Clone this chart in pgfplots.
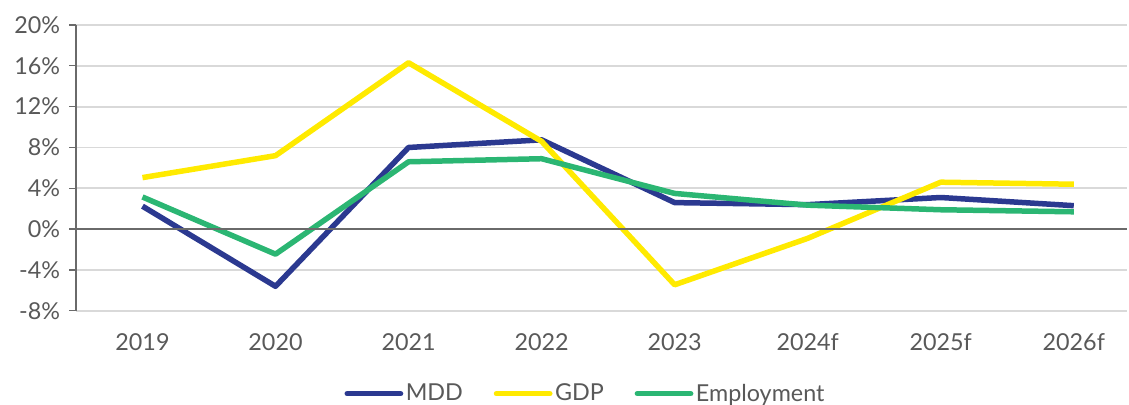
\documentclass[border=0pt]{standalone}
\usepackage{pgfplots}
\pgfplotsset{compat=1.18}
\usepackage{fontspec}
\setmainfont{Lato}
\definecolor{mdd}{HTML}{2B3990}
\definecolor{gdp}{HTML}{FFEA00}
\definecolor{emp}{HTML}{2BB673}
\definecolor{txt}{HTML}{595959}
\definecolor{grd}{HTML}{D9D9D9}
\begin{document}
\begin{tikzpicture}
\begin{axis}[
  name=ax,
  scale only axis,
  width=631pt, height=171.6pt,
  xmin=-0.5, xmax=7.4,
  ymin=-8, ymax=20,
  ytick={-8,-4,0,4,8,12,16,20},
  yticklabel={\pgfmathprintnumber{\tick}\%},
  /pgf/number format/assume math mode=true,
  xtick={0,1,2,3,4,5,6,7},
  xticklabels={2019,2020,2021,2022,2023,2024f,2025f,2026f},
  ymajorgrids,
  major grid style={grd, line width=1.1pt},
  axis x line*=bottom,
  x axis line style={draw=none},
  xtick style={draw=none},
  axis y line*=left,
  y axis line style={txt!90, line width=0.8pt, -},
  ytick style={txt!90, line width=0.8pt},
  tick align=outside,
  major tick length=4pt,
  ticklabel style={font=\fontsize{14}{16}\selectfont, text=txt},
  yticklabel style={xshift=-2pt},
  xticklabel style={anchor=base, yshift=-20pt},
  clip=false,
  legend style={at={(0.485,-0.29)}, anchor=center, draw=none, legend columns=3,
    font=\fontsize{14}{16}\selectfont, text=txt,
    nodes={inner xsep=1.5pt},
    /tikz/every even column/.append style={column sep=17pt}},
  legend image code/.code={\draw[#1, line cap=round] (0pt,0pt) -- (32pt,0pt);},
  every axis plot/.append style={line width=3.3pt, line join=round},
]
\addplot[mdd] coordinates {(0,2.25) (1,-5.6) (2,8.0) (3,8.75) (4,2.6) (5,2.4) (6,3.1) (7,2.3)};
\addplot[gdp] coordinates {(0,5.05) (1,7.2) (2,16.3) (3,8.6) (4,-5.45) (5,-0.9) (6,4.6) (7,4.4)};
\addplot[emp] coordinates {(0,3.15) (1,-2.45) (2,6.6) (3,6.9) (4,3.5) (5,2.35) (6,1.9) (7,1.7)};
\legend{MDD,GDP,Employment}
\draw[txt!90, line width=0.8pt] (axis cs:-0.5,0) -- (axis cs:7.4,0);
\end{axis}
\pgfresetboundingbox
\useasboundingbox ([xshift=-45.6pt,yshift=-56.4pt]ax.south west) rectangle ([xshift=1.2pt,yshift=15pt]ax.north east);
\end{tikzpicture}
\end{document}
